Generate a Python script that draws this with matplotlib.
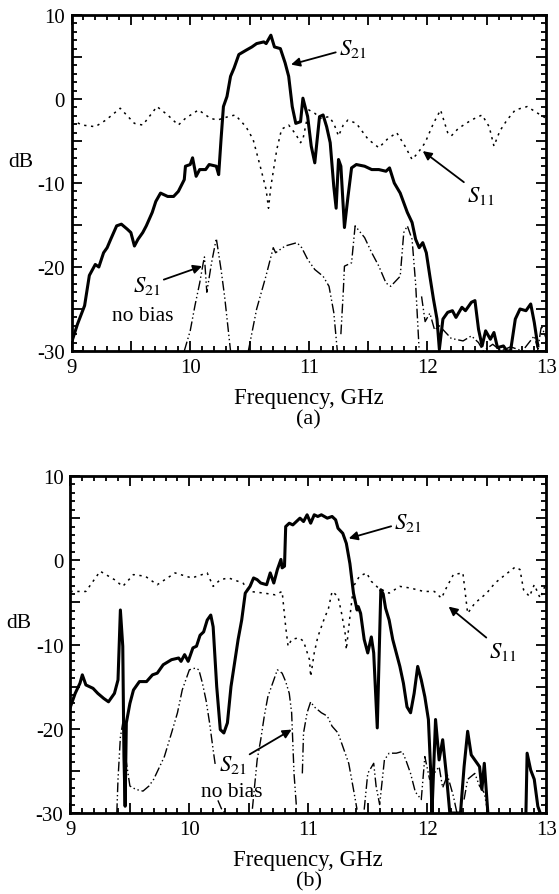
import matplotlib
matplotlib.use('Agg')
import matplotlib.pyplot as plt
from matplotlib.ticker import MultipleLocator, FuncFormatter

plt.rcParams['font.family'] = ['Liberation Serif', 'DejaVu Serif']
plt.rcParams['mathtext.fontset'] = 'stix'

# ---------------- panel (a) ----------------
a_s21_f = [9.0, 9.05, 9.11, 9.15, 9.2, 9.23, 9.27, 9.3, 9.33, 9.38, 9.42, 9.47, 9.5, 9.53, 9.56,
           9.6, 9.63, 9.68, 9.71, 9.75, 9.81, 9.86, 9.9, 9.95, 9.96, 10.0, 10.02, 10.05, 10.08,
           10.13, 10.16, 10.22, 10.24, 10.26, 10.28, 10.31, 10.34, 10.37, 10.41, 10.47, 10.52,
           10.56, 10.62, 10.64, 10.68, 10.71, 10.76, 10.8, 10.83, 10.86, 10.89, 10.93, 10.95,
           10.99, 11.02, 11.05, 11.09, 11.12, 11.15, 11.18, 11.21, 11.23, 11.25, 11.27, 11.3,
           11.33, 11.36, 11.4, 11.47, 11.53, 11.59, 11.65, 11.68, 11.72, 11.77, 11.83, 11.87,
           11.9, 11.93, 11.96, 11.99, 12.02, 12.05, 12.08, 12.1, 12.13, 12.17, 12.21, 12.24,
           12.29, 12.32, 12.37, 12.4, 12.43, 12.46, 12.49, 12.53, 12.56, 12.59, 12.64, 12.67,
           12.7, 12.74, 12.78, 12.83, 12.87, 12.9, 12.93]
a_s21_db = [-29, -26.8, -24.6, -21, -19.7, -20, -18.3, -17.7, -16.7, -15.1, -14.9, -15.5, -15.9,
            -17.5, -16.7, -15.9, -15.1, -13.5, -12.2, -11.2, -11.6, -11.6, -11.0, -9.6, -8.0,
            -7.8, -7.0, -9.2, -8.4, -8.4, -7.8, -8.0, -9.0, -4.8, -0.9, 0.3, 2.7, 3.7, 5.3, 5.8,
            6.2, 6.6, 6.8, 6.6, 7.6, 6.2, 6.0, 4.3, 2.7, -0.9, -2.9, -2.7, 0.1, -2.1, -5.6, -7.6,
            -2.1, -1.9, -3.3, -5.2, -10.4, -13, -7.2, -8.0, -15.3, -11.6, -8.2, -7.8, -8.0, -8.4,
            -8.4, -8.6, -8.2, -10.0, -11.2, -13.5, -14.7, -16.7, -17.7, -17.1, -18.3, -21.1,
            -23.8, -26.2, -29.8, -26.2, -25.4, -25.2, -26, -24.8, -25.2, -24.2, -24.0, -27.4,
            -29.4, -27.6, -28.6, -27.8, -29.6, -29.4, -30, -30, -26.2, -25, -25.2, -24.4, -26.6,
            -29.4]

a_s11_f = [9.0, 9.09, 9.2, 9.29, 9.41, 9.53, 9.6, 9.72, 9.81, 9.9, 9.96, 10.07, 10.17, 10.23,
           10.32, 10.38, 10.47, 10.53, 10.59, 10.64, 10.66, 10.68, 10.73, 10.77, 10.83, 10.89,
           10.93, 10.95, 11.0, 11.05, 11.1, 11.17, 11.21, 11.25, 11.29, 11.33, 11.4, 11.5, 11.59,
           11.66, 11.74, 11.81, 11.87, 11.92, 11.98, 12.05, 12.11, 12.17, 12.2, 12.26, 12.37,
           12.46, 12.52, 12.56, 12.61, 12.67, 12.74, 12.84, 12.93, 13.0]
a_s11_db = [-2.5, -3.1, -3.3, -2.5, -1.1, -2.9, -3.1, -0.9, -1.9, -3.1, -2.3, -1.3, -2.3, -2.5,
            -2.1, -1.9, -3.3, -4.8, -8.0, -10.8, -13, -10.4, -6.0, -3.6, -3.1, -4.2, -5.2, -4.8,
            -1.3, -1.7, -2.3, -2.1, -2.9, -4.4, -3.1, -2.5, -2.9, -4.8, -5.8, -4.8, -4.0, -5.6,
            -7.2, -6.4, -5.2, -2.9, -1.3, -4.0, -4.4, -3.5, -2.5, -1.9, -3.3, -5.6, -3.8, -2.5,
            -1.3, -0.9, -1.7, -2.3]

a_nb_f = [9.95, 10.0, 10.04, 10.08, 10.11, 10.12, 10.14, 10.18, 10.22, 10.26, 10.29, 10.34,
          None,
          10.49, 10.56, 10.64, 10.7, 10.72, 10.8, 10.9, 10.94, 10.99, 11.05, 11.12, 11.17, 11.21,
          11.24, None,
          11.27, 11.29, 11.3, 11.36, 11.39, 11.47, 11.53, 11.59, 11.65, 11.69, 11.77, 11.8,
          11.83, 11.87, 11.9, 11.93, None,
          11.95, 11.98, 12.02, 12.06, 12.1, 12.2, 12.3, 12.37, 12.43, 12.47, 12.55, 12.62,
          12.7, 12.8, 12.9, 12.93, 12.96, 13.0]
a_nb_db = [-30, -27.6, -24.6, -21.9, -19.5, -18.8, -23, -19.5, -16.6, -20.3, -23.5, -30,
           None,
           -30, -25, -21, -17.7, -18.3, -17.5, -17.1, -17.7, -19.1, -20.3, -21.1, -22.3, -25.4,
           -30, None,
           -28, -23, -19.9, -19.5, -15.1, -16.5, -18.3, -19.9, -21.9, -22.3, -21.1, -15.9,
           -15.1, -16.7, -22, -30, None,
           -23.5, -26.5, -25.5, -27.5, -27, -28.5, -28.8, -28.2, -29, -30, -29.2, -30,
           -29.5, -30, -28.2, -29.8, -27, -28.5]

# ---------------- panel (b) ----------------
b_s21_f = [9.0, 9.04, 9.08, 9.1, 9.13, 9.19, 9.23, 9.28, 9.32, 9.37, 9.4, 9.42, 9.44, 9.45,
           9.46, 9.47, 9.5, 9.53, 9.58, 9.64, 9.69, 9.73, 9.78, 9.85, 9.91, 9.93, 9.96, 9.99,
           10.03, 10.06, 10.09, 10.12, 10.15, 10.18, 10.2, 10.23, 10.26, 10.29, 10.32, 10.35,
           10.38, 10.41, 10.44, 10.47, 10.51, 10.54, 10.57, 10.6, 10.65, 10.68, 10.71, 10.74,
           10.77, 10.78, 10.8, 10.81, 10.84, 10.87, 10.9, 10.93, 10.96, 10.99, 11.02, 11.05,
           11.08, 11.11, 11.16, 11.2, 11.23, 11.25, 11.29, 11.32, 11.35, 11.38, 11.41, 11.42,
           11.44, 11.47, 11.5, 11.53, 11.55, 11.58, 11.61, 11.63, 11.65, 11.68, 11.71, 11.74,
           11.77, 11.8, 11.83, 11.86, 11.89, 11.92, 11.95, 11.98, 12.01, 12.03, 12.04, 12.07,
           12.1, 12.13, 12.16, 12.19, 12.28, 12.31, 12.34, 12.37, 12.4, 12.44, 12.46, 12.48,
           12.51, None, 12.83, 12.84, 12.87, 12.9, 12.93, 12.95]
b_s21_db = [-17.4, -15.8, -14.6, -13.6, -14.8, -15.2, -15.8, -16.4, -16.8, -15.8, -14.2, -5.9,
            -10.2, -23.3, -29.2, -19.3, -17, -15.4, -14.4, -14.4, -13.6, -13.4, -12.4, -11.8,
            -11.6, -12.0, -11.2, -12, -10.4, -10.2, -8.9, -8.5, -7.1, -6.5, -7.9, -15, -20.1,
            -20.5, -19.3, -15, -12.2, -9.4, -7.1, -3.9, -3.1, -2.1, -2.3, -2.7, -2.9, -1.5,
            -2.7, -1.1, 0.1, -0.9, -0.7, 4.0, 4.4, 4.2, 4.6, 5.0, 4.6, 5.4, 4.4, 5.4, 5.2, 5.4,
            5.0, 5.2, 4.8, 3.8, 3.2, 2.0, -0.4, -3.9, -5.9, -5.5, -6.3, -9.4, -11.0, -9.1, -11,
            -19.9, -3.5, -4.0, -5.7, -7.1, -9.4, -11, -12.6, -14.6, -17.4, -18.1, -15.8, -12.6,
            -14.2, -16.2, -18.9, -25.3, -30, -18.9, -23.7, -21.3, -25.3, -30, -30, -24.5, -20.3,
            -23.1, -23.7, -24.5, -27.2, -24.1, -30, None, -30, -22.9, -24.9, -26, -29.2, -30]

b_s11_f = [9.0, 9.13, 9.25, 9.37, 9.44, 9.53, 9.63, 9.73, 9.88, 10.02, 10.15, 10.2, 10.26,
           10.33, 10.45, 10.51, 10.63, 10.72, 10.78, 10.81, 10.83, 10.86, 10.92, 10.96, 11.01,
           11.02, 11.05, 11.08, 11.13, 11.17, 11.2, 11.25, 11.28, 11.31, 11.32, 11.35, 11.38,
           11.43, 11.49, 11.53, 11.59, 11.68, 11.77, 11.86, 11.97, 12.06, 12.12, 12.16, 12.22,
           12.3, 12.34, 12.4, 12.5, 12.57, 12.64, 12.74, 12.78, 12.81, 12.86, 12.9, 12.95, 13.0]
b_s11_db = [-3.7, -3.7, -1.3, -2.3, -3.1, -1.7, -1.9, -2.9, -1.5, -2.1, -1.5, -3.1, -2.3, -2.1,
            -2.7, -3.7, -3.9, -4.1, -3.7, -7.9, -10.2, -9.4, -9.2, -9.6, -11.8, -13.8, -11.0,
            -9.1, -7.1, -5.7, -3.7, -4.3, -6.3, -8.7, -10.6, -6.7, -3.1, -1.9, -1.5, -2.5, -3.3,
            -3.9, -3.1, -3.3, -3.7, -3.7, -4.5, -3.3, -1.7, -1.5, -6.3, -5.1, -3.9, -2.7, -1.9,
            -0.8, -1.1, -3.5, -4.3, -2.9, -4.5, -2.7]

b_nb_f = [9.39, 9.4, 9.42, 9.44, 9.46, 9.5, 9.55, 9.61, 9.66, 9.7, 9.75, 9.79, 9.85, 9.9, 9.94,
          9.97, 10.0, 10.05, 10.08, 10.11, 10.14, 10.17, 10.2, 10.22, None,
          10.24, 10.27, 10.3, None,
          10.53, 10.57, 10.6, 10.63, 10.66, 10.69, 10.74, 10.78, 10.81, 10.84, 10.86, 10.88,
          10.9, None,
          10.95, 10.96, 10.99, 11.02, 11.05, 11.11, 11.16, 11.2, 11.25, 11.29, 11.34, 11.38,
          11.41, None,
          11.47, 11.5, 11.55, 11.57, 11.6, 11.64, 11.68, 11.74, 11.79, 11.82, 11.86, 11.9,
          11.95, 11.98, 12.02, 12.1, 12.13, 12.17, 12.22, 12.25, None,
          12.31, 12.34, 12.4, 12.44, 12.48, 12.51]
b_nb_db = [-30, -26, -21, -19.3, -23, -26.8, -27.2, -27.4, -26.8, -26, -24.5, -23.3, -20.5,
           -18.1, -15.4, -14.2, -13, -12.8, -13, -14.6, -16.6, -19.3, -22.5, -24.5, None,
           -28.5, -29.5, -30, None,
           -29.5, -23.7, -21.3, -18.5, -16.2, -15, -13, -13.4, -14.4, -15.8, -18.1, -25.3,
           -29.2, None,
           -25.3, -20.5, -18.1, -16.8, -17.4, -18.1, -18.5, -19.7, -20.5, -22.1, -24.1, -27.2,
           -29.6, None,
           -29.6, -25.3, -24.1, -26.8, -29, -23.7, -22.9, -22.9, -22.7, -23.7, -25.3, -27.5,
           -28.4, -23.3, -26, -24.5, -27, -25.5, -28, -30, None,
           -28.4, -26, -25.3, -26.8, -27.6, -30]


def nan_fill(v):
    return [float('nan') if x is None else x for x in v]


def style_axes(ax):
    ax.set_xlim(9, 13)
    ax.set_ylim(-30, 10)
    ax.xaxis.set_major_locator(MultipleLocator(0.5))
    ax.xaxis.set_minor_locator(MultipleLocator(0.1))
    ax.yaxis.set_major_locator(MultipleLocator(5))
    ax.yaxis.set_minor_locator(MultipleLocator(1))
    ax.xaxis.set_major_formatter(FuncFormatter(lambda v, p: '%d' % v if abs(v - round(v)) < 1e-6 else ''))
    ax.yaxis.set_major_formatter(FuncFormatter(lambda v, p: '%d' % v if abs(v) % 10 < 1e-6 else ''))
    ax.tick_params(which='both', direction='in', top=True, right=True, width=1.3, labelsize=15)
    ax.tick_params(which='major', length=7, pad=5)
    ax.tick_params(which='minor', length=3.5)
    for s in ax.spines.values():
        s.set_linewidth(2.0)
    ax.set_xlabel('Frequency, GHz', fontsize=16.5)
    ax.xaxis.set_label_coords(0.5, -0.137, transform=ax.transAxes)
    ax.xaxis.label.set_va('center')
    ax.set_ylabel('dB', fontsize=15.5, rotation=0, va='center', ha='center')
    ax.yaxis.set_label_coords(-0.108, 0.565)


def note(ax, text, xy, xytext, ha='left'):
    ax.annotate(text, xy=xy, xytext=xytext, fontsize=16.5, ha=ha, va='center',
                arrowprops=dict(arrowstyle='-|>', color='black', lw=1.3,
                                mutation_scale=13, shrinkA=0, shrinkB=0))


fig = plt.figure(figsize=(5.59, 8.95), dpi=100)

ax1 = fig.add_axes([0.128, 0.6067, 0.849, 0.3754])
ax1.plot(a_s21_f, a_s21_db, color='black', lw=2.2)
ax1.plot(a_s11_f, a_s11_db, color='black', lw=1.1, ls=(0, (1.5, 3)))
ax1.plot(nan_fill(a_nb_f), nan_fill(a_nb_db), color='black', lw=1.0, ls=(0, (7, 2, 1, 2, 1, 2)))
style_axes(ax1)
note(ax1, r'$S_{21}$', (10.85, 4.1), (11.25, 6.1))
note(ax1, r'$S_{11}$', (11.96, -6.2), (12.33, -11.4))
note(ax1, r'$S_{21}$', (10.1, -19.9), (9.52, -22.2))
ax1.text(9.6, -25.8, 'no bias', fontsize=15.5, ha='center', va='center')
fig.text(0.552, 0.531, '(a)', fontsize=16, ha='center', va='center')

ax2 = fig.add_axes([0.126, 0.0905, 0.851, 0.3765])
ax2.plot(nan_fill(b_s21_f), nan_fill(b_s21_db), color='black', lw=2.2)
ax2.plot(b_s11_f, b_s11_db, color='black', lw=1.1, ls=(0, (1.5, 3)))
ax2.plot(nan_fill(b_nb_f), nan_fill(b_nb_db), color='black', lw=1.0, ls=(0, (7, 2, 1, 2, 1, 2)))
style_axes(ax2)
note(ax2, r'$S_{21}$', (11.34, 2.6), (11.72, 4.6))
note(ax2, r'$S_{11}$', (12.18, -5.5), (12.52, -10.8))
note(ax2, r'$S_{21}$', (10.86, -20.1), (10.25, -24.2))
ax2.text(10.36, -27.4, 'no bias', fontsize=15.5, ha='center', va='center')
fig.text(0.552, 0.0145, '(b)', fontsize=16, ha='center', va='center')

fig.savefig('out.png', dpi=100)
